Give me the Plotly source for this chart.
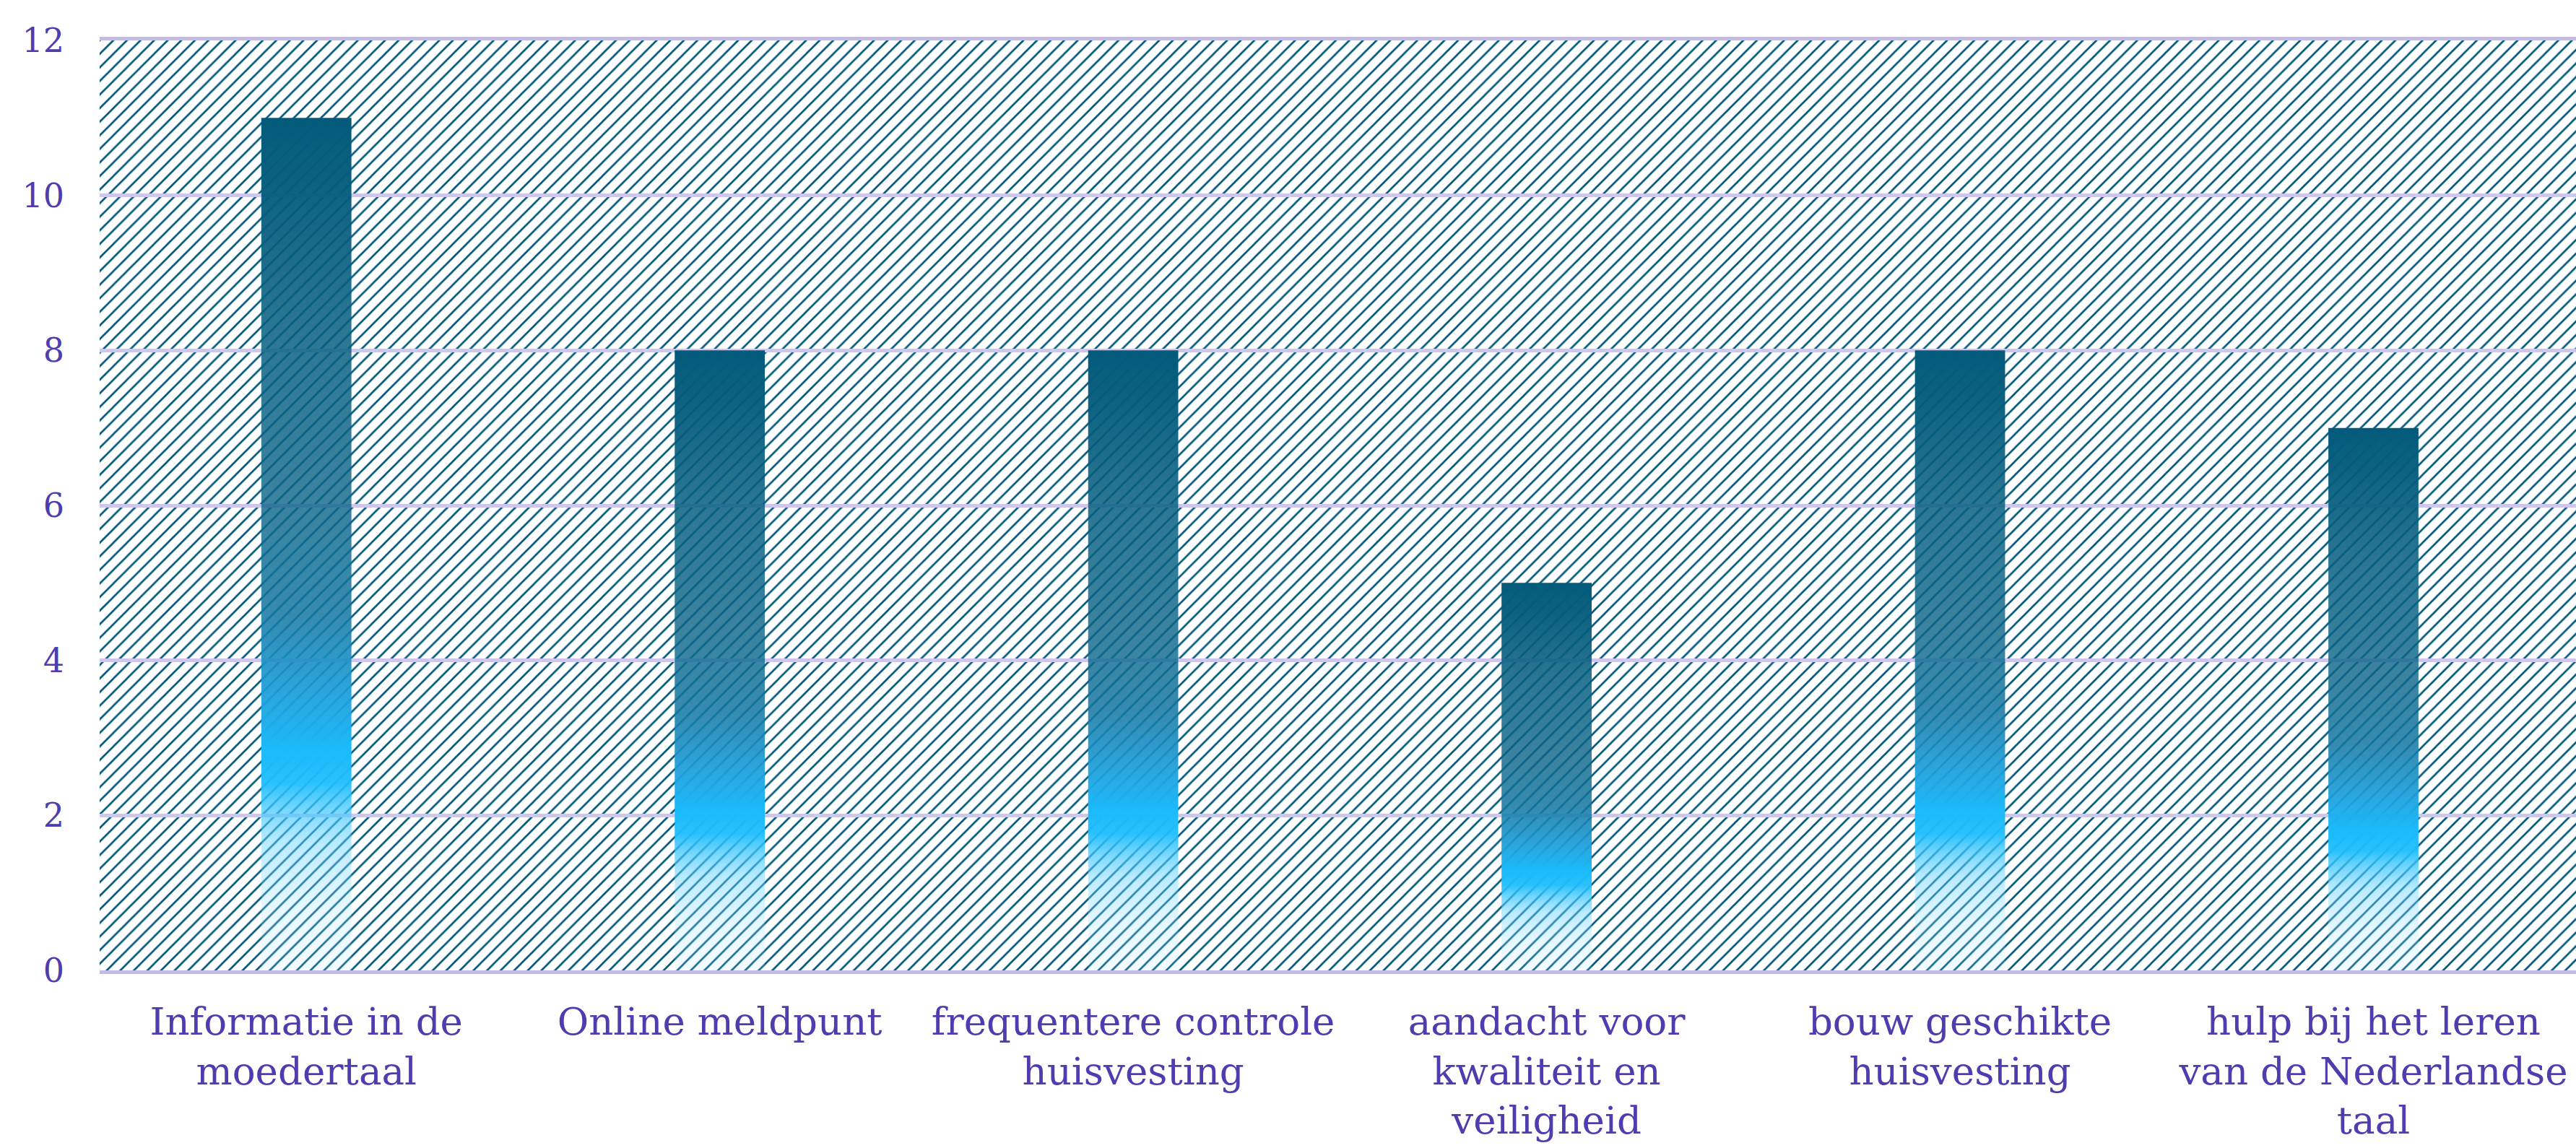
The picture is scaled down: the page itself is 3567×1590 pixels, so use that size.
import plotly.graph_objects as go

# ---- data ----
categories = [
    "Informatie in de<br>moedertaal",
    "Online meldpunt",
    "frequentere controle<br>huisvesting",
    "aandacht voor<br>kwaliteit en<br>veiligheid",
    "bouw geschikte<br>huisvesting",
    "hulp bij het leren<br>van de Nederlandse<br>taal",
]
values = [11, 8, 8, 5, 8, 7]
y_ticks = [0, 2, 4, 6, 8, 10, 12]

# ---- style ----
BAR_WIDTH = 0.218
TEXT = "#4F3CAF"
HATCH = "#03597A"
GRID = "#CEC6EC"
FONT = "DejaVu Serif"

gradient_scale = [
    [0.00, "rgba(170,230,255,0.15)"],
    [0.07, "rgba(160,228,255,0.25)"],
    [0.15, "rgba(100,210,255,0.45)"],
    [0.19, "rgba(60,198,253,0.72)"],
    [0.22, "rgba(30,190,252,0.95)"],
    [0.26, "rgba(27,186,250,1)"],
    [0.32, "rgba(28,160,220,0.93)"],
    [0.42, "rgba(18,118,160,0.85)"],
    [0.55, "rgba(10,100,135,0.80)"],
    [0.75, "rgba(6,95,128,0.85)"],
    [0.90, "rgba(4,92,124,0.95)"],
    [1.00, "rgba(3,90,122,1)"],
]

positions = list(range(len(categories)))
y_max = max(y_ticks)
x_range = [-0.5, len(categories) - 0.51]

fig = go.Figure()

# hatched plot-area background (subplot 1, underneath)
fig.add_trace(go.Bar(
    x=positions, y=[y_max] * len(positions), width=1,
    marker=dict(color="white", line=dict(width=0),
                pattern=dict(shape="/", fgcolor=HATCH, bgcolor="white",
                             size=13.3, solidity=0.2, fillmode="replace")),
    xaxis="x", yaxis="y", hoverinfo="skip", showlegend=False,
))

# gradient bars (subplot 2, on top with gridlines)
for i, v in enumerate(values):
    x0, x1 = positions[i] - BAR_WIDTH / 2, positions[i] + BAR_WIDTH / 2
    fig.add_trace(go.Scatter(
        x=[x0, x1, x1, x0, x0], y=[0, 0, v, v, 0],
        fill="toself", mode="lines", line=dict(width=0, color="rgba(0,0,0,0)"),
        fillgradient=dict(type="vertical", colorscale=gradient_scale, start=0, stop=v),
        xaxis="x2", yaxis="y2", hoverinfo="skip", showlegend=False,
    ))

fig.update_layout(
    width=3567, height=1590,
    margin=dict(l=138, r=0, t=56, b=246, autoexpand=False),
    paper_bgcolor="white", plot_bgcolor="rgba(0,0,0,0)",
    bargap=0,
    xaxis=dict(domain=[0, 1], range=x_range, visible=False, fixedrange=True, automargin=False),
    yaxis=dict(domain=[0, 1], range=[0, y_max], visible=False, fixedrange=True, automargin=False),
    xaxis2=dict(domain=[0, 1], anchor="y2", range=x_range, automargin=False,
                tickmode="array", tickvals=positions, ticktext=categories,
                tickangle=0, ticks="", showgrid=False, zeroline=False,
                showline=True, mirror=True, linecolor="#C4BAE8", linewidth=5,
                tickfont=dict(family=FONT, size=53, color=TEXT),
                ticklabelstandoff=20, fixedrange=True),
    yaxis2=dict(domain=[0, 1], anchor="x2", range=[0, y_max], automargin=False,
                tickmode="array", tickvals=y_ticks, ticks="",
                showgrid=True, gridcolor=GRID, gridwidth=5, zeroline=False, showline=False,
                tickfont=dict(family=FONT, size=46, color=TEXT),
                ticklabelstandoff=48, fixedrange=True),
)

fig.write_html("out.html", config={"displayModeBar": False},
               post_script="document.body.style.margin='0';")
